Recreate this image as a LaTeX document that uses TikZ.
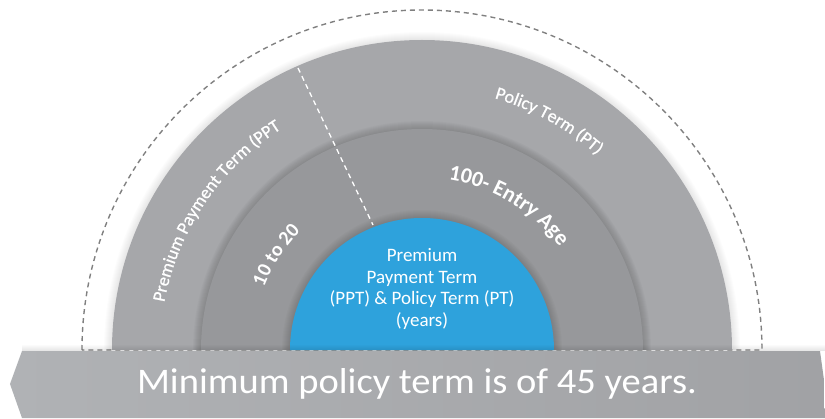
\documentclass[tikz,border=0pt]{standalone}
\usepackage{fontspec}
\setmainfont{Carlito}
\newfontfamily\semibd[FakeBold=0.8]{Carlito}
\usetikzlibrary{decorations.text}
\definecolor{outerring}{HTML}{A6A7AA}
\definecolor{innerring}{HTML}{97989B}
\definecolor{bluecore}{HTML}{2EA2DC}
\definecolor{bannerL}{HTML}{B0B2B5}
\definecolor{bannerR}{HTML}{A1A2A5}
\definecolor{dashgray}{HTML}{808080}
\tikzset{
  ringlabel/.style={decorate, decoration={text along path, text align=center}},
}
\begin{document}
\begin{tikzpicture}[x=1pt,y=1pt]
\useasboundingbox (-422,-68) rectangle (403,350);
% dashed outline
\draw[dashgray, line width=1.4pt, dash pattern=on 5pt off 4pt] (-340pt,0) arc[start angle=180,end angle=0,radius=340pt] -- cycle;
% outer halo
\foreach \i in {1,...,8}{
  \fill[black, opacity=0.012] (-310pt-\i pt,0) arc[start angle=180,end angle=0,radius=310pt+\i pt] -- cycle;
}
\fill[outerring] (-310pt,0) arc[start angle=180,end angle=0,radius=310pt] -- cycle;
% shadow of inner ring
\foreach \i in {1,...,8}{
  \fill[black, opacity=0.02] (-221pt-\i pt,0) arc[start angle=180,end angle=0,radius=221pt+\i pt] -- cycle;
}
\fill[innerring] (-221pt,0) arc[start angle=180,end angle=0,radius=221pt] -- cycle;
% shadow of core
\foreach \i in {1,...,8}{
  \fill[black, opacity=0.02] (-132pt-\i pt,0) arc[start angle=180,end angle=0,radius=132pt+\i pt] -- cycle;
}
\fill[bluecore] (-132pt,0) arc[start angle=180,end angle=0,radius=132pt] -- cycle;
% divider
\coordinate (dvA) at (-124,282);
\coordinate (dvB) at (-49,125);
\draw[white, line width=1.3pt, dash pattern=on 5pt off 4pt] (dvA) -- (dvB);
% curved labels
\path[ringlabel, decoration={text={|\semibd\fontsize{18}{18}\selectfont\color{white}|Premium Payment Term (PPT}}]
  (176:262pt) arc[start angle=176,end angle=116,radius=262pt];
\path[ringlabel, decoration={text={|\semibd\fontsize{18}{18}\selectfont\color{white}|Policy Term (PT)}}]
  (91:262pt) arc[start angle=91,end angle=31,radius=262pt];
\path[ringlabel, decoration={text={|\bfseries\fontsize{22}{22}\selectfont\color{white}|100- Entry Age}}]
  (89:172pt) arc[start angle=89,end angle=29,radius=172pt];
\path[ringlabel, decoration={text={|\bfseries\fontsize{20}{20}\selectfont\color{white}|10 to 20}}]
  (177:170pt) arc[start angle=177,end angle=117,radius=170pt];
% core text
\node[text=white, align=center, font=\fontsize{19}{21.5}\selectfont] (core) at (0,61)
  {Premium\\Payment Term\\(PPT) \& Policy Term (PT)\\(years)};
% banner shadow
\foreach \i in {1,...,6}{
  \fill[black, opacity=0.015] (-400,-1) rectangle (403,-1+\i);
}
% banner
\shade[left color=bannerL, right color=bannerR] (-400,-1) -- (-412,-34) -- (-400,-68) -- (403,-68) -- (402,-30) -- (398,-1) -- cycle;
\node[text=white, anchor=base, xscale=1.07, font=\fontsize{36}{36}\selectfont] (banner) at (-5,-43) {Minimum policy term is of 45 years.};
\end{tikzpicture}
\end{document}
